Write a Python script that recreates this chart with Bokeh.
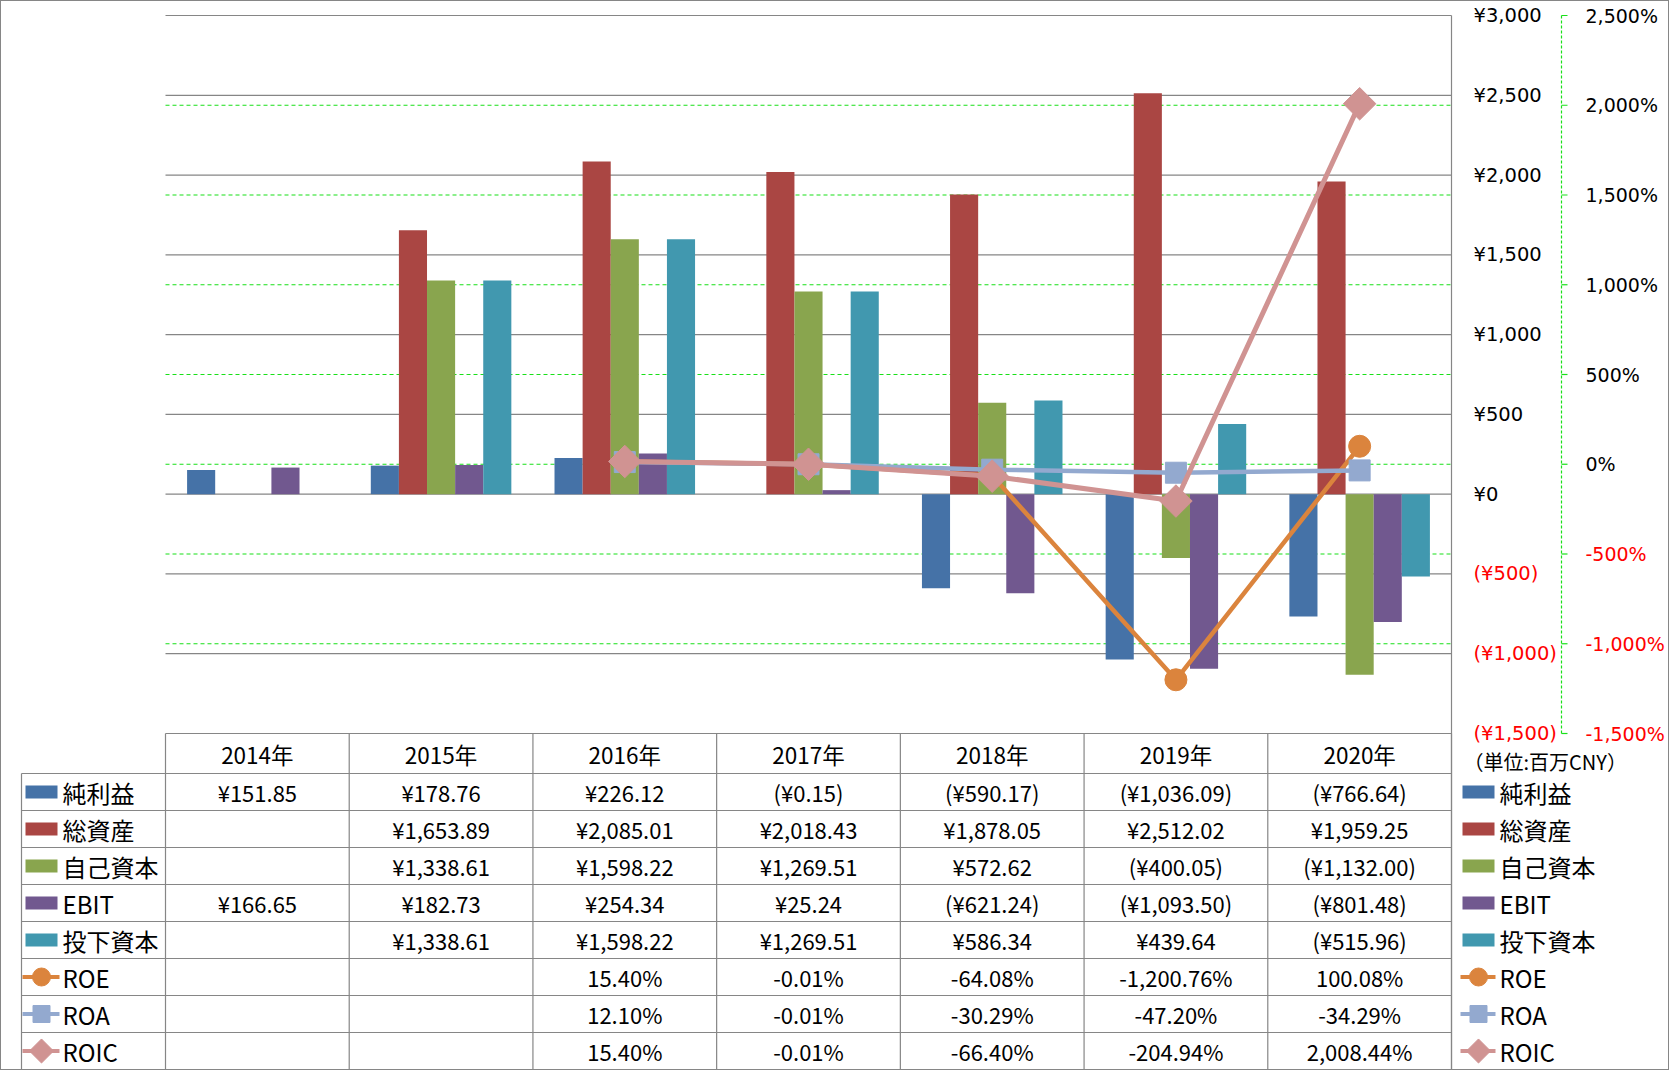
import math
from bokeh.plotting import figure
from bokeh.models import Range1d
from bokeh.layouts import column
from bokeh.core.properties import value
from bokeh.embed import file_html
from bokeh.resources import INLINE

NaN = float("nan")

# ---------------- data ----------------
years = ["2014年", "2015年", "2016年", "2017年", "2018年", "2019年", "2020年"]
net_income = [151.85, 178.76, 226.12, -0.15, -590.17, -1036.09, -766.64]
total_assets = [NaN, 1653.89, 2085.01, 2018.43, 1878.05, 2512.02, 1959.25]
equity = [NaN, 1338.61, 1598.22, 1269.51, 572.62, -400.05, -1132.00]
ebit = [166.65, 182.73, 254.34, 25.24, -621.24, -1093.50, -801.48]
invested_capital = [NaN, 1338.61, 1598.22, 1269.51, 586.34, 439.64, -515.96]
roe = [NaN, NaN, 15.40, -0.01, -64.08, -1200.76, 100.08]
roa = [NaN, NaN, 12.10, -0.01, -30.29, -47.20, -34.29]
roic = [NaN, NaN, 15.40, -0.01, -66.40, -204.94, 2008.44]

bar_names = ["純利益", "総資産", "自己資本", "EBIT", "投下資本"]
line_names = ["ROE", "ROA", "ROIC"]

yen_ticks = [-1500, -1000, -500, 0, 500, 1000, 1500, 2000, 2500, 3000]
yen_tick_labels = ["(¥1,500)", "(¥1,000)", "(¥500)", "¥0", "¥500", "¥1,000",
                   "¥1,500", "¥2,000", "¥2,500", "¥3,000"]
pct_ticks = [-1500, -1000, -500, 0, 500, 1000, 1500, 2000, 2500]
pct_tick_labels = ["-1,500%", "-1,000%", "-500%", "0%", "500%", "1,000%",
                   "1,500%", "2,000%", "2,500%"]
unit_text = "（単位:百万CNY）"

# ---------------- styles / layout (canvas pixels) ----------------
BAR_COLORS = ["#4572A7", "#AA4643", "#89A54E", "#71588F", "#4198AF"]
LINE_COLORS = ["#DB843D", "#93A9CF", "#D09392"]
LINE_WIDTHS = [4.5, 4.5, 5]
LINE_MARKERS = [("circle", 0.0, 22), ("square", 0.0, 21), ("square", math.pi / 4, 23)]
KEY_MARKERS = [("circle", 0.0, 18), ("square", 0.0, 17), ("square", math.pi / 4, 17)]
GRAY = "#868686"
GREEN = "#19E019"
RED = "#FF0000"
AX_FONT = "DejaVu Sans"
JP_FONT = "Noto Sans CJK JP"

W, H = 1667, 1068
PL, PR = 164, 1450          # plot area left / right
PT, PB = 14, 732            # plot area top / bottom
HEAD_B = 772                # bottom of header row
ROW_H = (H - HEAD_B) / 8
LABEL_L = 20
YEN_LABEL_X = 1472
PCT_AXIS_X = 1560
PCT_LABEL_X = 1584
BW = 0.153

n = len(years)
CW = (PR - PL) / n
Y_MIN, Y_MAX = yen_ticks[0], yen_ticks[-1]
P_MIN, P_MAX = pct_ticks[0], pct_ticks[-1]
KY = (Y_MAX - Y_MIN) / (PB - PT)
KP = (P_MAX - P_MIN) / (PB - PT)

p = figure(width=W, height=H,
           x_range=Range1d(-PL / CW, (W - PL) / CW),
           y_range=Range1d(Y_MIN - (H - PB) * KY, Y_MAX + PT * KY),
           output_backend="svg", toolbar_location=None,
           x_axis_location=None, y_axis_location=None, min_border=0,
           outline_line_color=None, background_fill_color="white", border_fill_color="white")
p.extra_y_ranges = {"pct": Range1d(P_MIN - (H - PB) * KP, P_MAX + PT * KP),
                    "px": Range1d(H, 0)}
p.extra_x_ranges = {"px": Range1d(0, W)}
p.grid.visible = False

xc = [i + 0.5 for i in range(n)]

# ---- gridlines ----
pct_grid = [t for t in pct_ticks if P_MIN < t < P_MAX]
p.segment(x0=0, x1=n, y0=pct_grid, y1=pct_grid, y_range_name="pct",
          line_color=GREEN, line_dash="4 3", line_width=1.2)
p.segment(x0=0, x1=n, y0=yen_ticks, y1=yen_ticks, line_color=GRAY, line_width=1.2)

# ---- bars ----
for j, (vals, color) in enumerate(zip([net_income, total_assets, equity, ebit, invested_capital],
                                      BAR_COLORS)):
    p.vbar(x=[x + (j - 2) * BW for x in xc], top=vals, width=BW,
           fill_color=color, line_color=None)

# ---- ratio lines ----
for vals, color, lw, (mk, ang, sz) in zip([roe, roa, roic], LINE_COLORS, LINE_WIDTHS, LINE_MARKERS):
    p.line(x=xc, y=vals, y_range_name="pct", line_color=color, line_width=lw)
    p.scatter(x=xc, y=vals, y_range_name="pct", marker=mk, angle=ang, size=sz,
              fill_color=color, line_color=color)

# ---- yen axis (right of the plot) ----
p.segment(x0=n, x1=n, y0=PT, y1=H, y_range_name="px", line_color=GRAY, line_width=1.2)
p.text(x=[YEN_LABEL_X] * len(yen_ticks), y=yen_ticks, x_range_name="px", text=yen_tick_labels,
       text_color=[RED if t < 0 else "#000000" for t in yen_ticks],
       text_align="left", text_baseline="middle",
       text_font=value(AX_FONT), text_font_size="19.5px")

# ---- percent axis ----
p.segment(x0=PCT_AXIS_X, x1=PCT_AXIS_X, y0=P_MIN, y1=P_MAX, x_range_name="px",
          y_range_name="pct", line_color=GREEN, line_dash="3 2", line_width=1.2)
p.segment(x0=PCT_AXIS_X, x1=PCT_AXIS_X + 6, y0=pct_ticks, y1=pct_ticks, x_range_name="px",
          y_range_name="pct", line_color=GREEN, line_width=1.2)
p.text(x=[PCT_LABEL_X] * len(pct_ticks), y=pct_ticks, x_range_name="px", y_range_name="pct",
       text=pct_tick_labels, text_color=[RED if t < 0 else "#000000" for t in pct_ticks],
       text_align="left", text_baseline="middle",
       text_font=value(AX_FONT), text_font_size="19px")

p.text(x=[1462], y=[760], x_range_name="px", y_range_name="px", text=[unit_text],
       text_align="left", text_baseline="middle", text_color="#000000",
       text_font=value(JP_FONT), text_font_size="20px")

# ---------------- data table ----------------
def fmt_yen(v):
    if v != v:
        return ""
    s = "¥{:,.2f}".format(abs(v))
    return "({})".format(s) if v < 0 else s


def fmt_pct(v):
    if v != v:
        return ""
    return "{:,.2f}%".format(v)


rows = [(bar_names[0], net_income, fmt_yen), (bar_names[1], total_assets, fmt_yen),
        (bar_names[2], equity, fmt_yen), (bar_names[3], ebit, fmt_yen),
        (bar_names[4], invested_capital, fmt_yen),
        (line_names[0], roe, fmt_pct), (line_names[1], roa, fmt_pct), (line_names[2], roic, fmt_pct)]
row_y = [HEAD_B + (k + 0.5) * ROW_H for k in range(len(rows))]

# header row
p.text(x=xc, y=[(PB + HEAD_B) / 2] * n, y_range_name="px", text=years,
       text_align="center", text_baseline="middle", text_color="#000000",
       text_font=value(JP_FONT), text_font_size="22.5px")
bx = list(range(n + 1))
p.segment(x0=bx, x1=bx, y0=PB, y1=H, y_range_name="px", line_color=GRAY, line_width=1.2)
p.segment(x0=LABEL_L, x1=LABEL_L, y0=HEAD_B, y1=H, x_range_name="px", y_range_name="px",
          line_color=GRAY, line_width=1.2)
hl = [HEAD_B + k * ROW_H for k in range(len(rows))]
p.segment(x0=LABEL_L, x1=PR, y0=hl, y1=hl, x_range_name="px", y_range_name="px",
          line_color=GRAY, line_width=1.2)

tx, ty, tt = [], [], []
for k, (name, vals, f) in enumerate(rows):
    for i, v in enumerate(vals):
        s = f(v)
        if s:
            tx.append(xc[i]); ty.append(row_y[k]); tt.append(s)
p.text(x=tx, y=ty, y_range_name="px", text=tt, text_align="center", text_baseline="middle",
       text_font=value(JP_FONT), text_font_size="22px", text_color="#000000")

# legend keys: in the table's label column and at the right
for key_cx, key_l, key_r, text_x in [(40, 21, 58, 61), (1477, 1459, 1494, 1498)]:
    for k in range(len(bar_names)):
        p.rect(x=key_cx, y=row_y[k], width=32, height=13, x_range_name="px", y_range_name="px",
               fill_color=BAR_COLORS[k], line_color=None)
    for m, (color, (mk, ang, sz)) in enumerate(zip(LINE_COLORS, KEY_MARKERS)):
        k = len(bar_names) + m
        p.segment(x0=key_l, x1=key_r, y0=row_y[k], y1=row_y[k], x_range_name="px",
                  y_range_name="px", line_color=color, line_width=4)
        p.scatter(x=key_cx, y=row_y[k], x_range_name="px", y_range_name="px", marker=mk,
                  angle=ang, size=sz, fill_color=color, line_color=color)
    p.text(x=[text_x] * len(rows), y=row_y, x_range_name="px", y_range_name="px",
           text=[r[0] for r in rows], text_align="left", text_baseline="middle",
           text_font=value(JP_FONT), text_font_size="24px", text_color="#000000")

layout = column(p, styles={"border": "1px solid #868686"})

with open("out.html", "w") as fh:
    fh.write(file_html(layout, INLINE))
